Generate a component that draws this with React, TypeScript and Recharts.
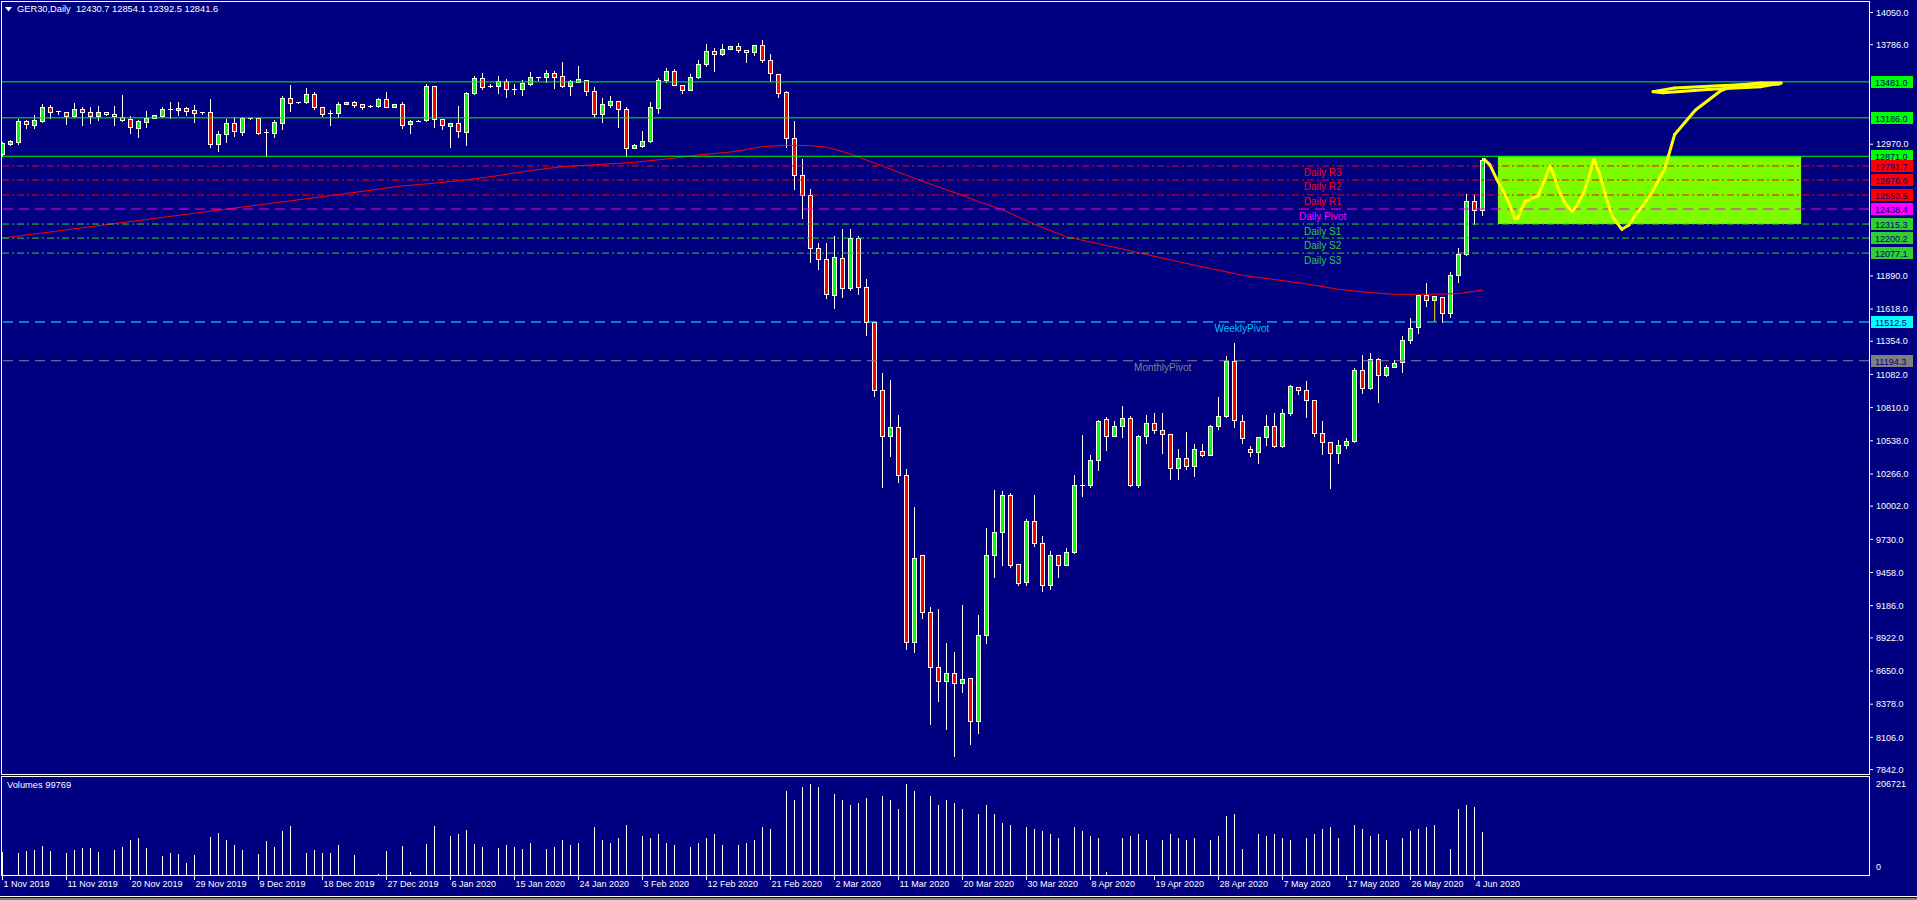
import React from 'react';
import {
  ComposedChart,
  Bar,
  Line,
  XAxis,
  YAxis,
  ReferenceLine,
  ReferenceArea,
  ReferenceDot,
} from 'recharts';

// daily GER30 bars, index 0 = 1 Nov 2019
const OPEN = [
  12887, 12969, 12991, 13157, 13130, 13162, 13279, 13242, 13238, 13203,
  13255, 13238, 13203, 13230, 13214, 13195, 13176, 13105, 13154, 13184,
  13203, 13255, 13250, 13263, 13247, 13236, 13238, 12974, 13051, 13143,
  13072, 13181, 13181, 13070, 13064, 13146, 13345, 13304, 13320, 13380,
  13279, 13225, 13222, 13296, 13312, 13296, 13280, 13285, 13337, 13279,
  13296, 13132, 13162, 13168, 13445, 13173, 13122, 13141, 13067, 13386,
  13516, 13448, 13448, 13492, 13426, 13424, 13467, 13522, 13522, 13552,
  13527, 13448, 13481, 13500, 13410, 13214, 13293, 13323, 13255, 12936,
  12958, 12993, 13268, 13500, 13573, 13459, 13415, 13524, 13631, 13737,
  13710, 13753, 13778, 13745, 13726, 13786, 13663, 13549, 13394, 13018,
  12716, 12552, 12116, 12027, 11737, 12036, 11788, 12200, 11803, 11514,
  10953, 10580, 10649, 10261, 8889, 9605, 9134, 8681, 8570, 8630,
  8556, 8597, 8242, 8949, 9605, 9793, 10097, 9531, 9381, 9880,
  9703, 9358, 9605, 9522, 9629, 10172, 10172, 10378, 10718, 10580,
  10658, 10723, 10178, 10578, 10687, 10627, 10591, 10313, 10395, 10332,
  10457, 10422, 10662, 10744, 11193, 10703, 10468, 10444, 10567, 10662,
  10496, 10769, 10982, 10955, 10873, 10600, 10531, 10436, 10501, 10539,
  11119, 10969, 11206, 11078, 11146, 11187, 11365, 11469, 11734, 11693,
  11720, 11583, 11898, 12067, 12505, 12430.7,
];
const HIGH = [
  12990, 13004, 13173, 13168, 13208, 13298, 13290, 13242, 13238, 13306,
  13271, 13271, 13282, 13233, 13282, 13372, 13200, 13168, 13241, 13206,
  13274, 13315, 13315, 13277, 13288, 13236, 13337, 13081, 13173, 13189,
  13189, 13186, 13186, 13094, 13168, 13364, 13454, 13320, 13429, 13402,
  13279, 13250, 13315, 13312, 13326, 13296, 13290, 13348, 13397, 13298,
  13315, 13168, 13168, 13467, 13451, 13173, 13141, 13282, 13399, 13527,
  13554, 13462, 13527, 13505, 13462, 13494, 13562, 13522, 13576, 13568,
  13641, 13500, 13609, 13500, 13435, 13345, 13369, 13323, 13274, 12975,
  13078, 13315, 13516, 13598, 13590, 13459, 13549, 13663, 13794, 13761,
  13788, 13778, 13799, 13745, 13786, 13827, 13707, 13549, 13407, 13159,
  12846, 12601, 12161, 12161, 12214, 12274, 12274, 12215, 11863, 11514,
  11090, 11036, 10753, 10306, 9993, 9605, 9173, 9158, 8881, 8806,
  9194, 8597, 9107, 9823, 10133, 10127, 10112, 9531, 9894, 10091,
  9754, 9635, 9605, 9659, 10261, 10583, 10425, 10709, 10732, 10703,
  10822, 10744, 10589, 10753, 10763, 10763, 10591, 10468, 10608, 10512,
  10512, 10668, 10895, 11234, 11338, 10750, 10496, 10567, 10750, 10764,
  10796, 10996, 10982, 11029, 10873, 10701, 10531, 10545, 10558, 11133,
  11242, 11255, 11215, 11160, 11201, 11398, 11542, 11734, 11829, 11726,
  11720, 11925, 12116, 12562, 12562, 12854.1,
];
const LOW = [
  12875, 12963, 12972, 13105, 13105, 13151, 13187, 13220, 13138, 13190,
  13130, 13146, 13170, 13211, 13127, 13160, 13064, 13031, 13113, 13181,
  13195, 13187, 13209, 13209, 13154, 13217, 12950, 12917, 12991, 13037,
  13045, 13178, 13056, 12874, 13031, 13097, 13244, 13304, 13304, 13260,
  13203, 13130, 13190, 13296, 13277, 13260, 13277, 13277, 13277, 13279,
  13105, 13064, 13157, 13162, 13113, 13091, 12945, 13031, 12964, 13380,
  13421, 13440, 13391, 13358, 13380, 13375, 13456, 13500, 13481, 13432,
  13440, 13375, 13481, 13372, 13189, 13151, 13277, 13113, 12874, 12936,
  12950, 12991, 13222, 13481, 13454, 13391, 13415, 13516, 13609, 13571,
  13699, 13753, 13723, 13644, 13704, 13644, 13486, 13358, 12944, 12604,
  12362, 12002, 11950, 11708, 11624, 11713, 11773, 11743, 11409, 10902,
  10157, 10416, 10202, 8830, 8806, 9083, 8219, 8403, 8174, 7950,
  8481, 8055, 8144, 8880, 9420, 9516, 9507, 9352, 9358, 9674,
  9307, 9322, 9420, 9522, 9614, 10088, 10157, 10297, 10461, 10580,
  10568, 10166, 10157, 10521, 10600, 10436, 10222, 10222, 10304, 10250,
  10416, 10422, 10632, 10736, 10654, 10523, 10416, 10359, 10504, 10485,
  10485, 10750, 10922, 10731, 10580, 10430, 10154, 10359, 10477, 10531,
  10927, 10960, 10859, 11070, 11146, 11105, 11343, 11425, 11646, 11690,
  11510, 11556, 11843, 12062, 12316, 12392.5,
];
const CLOSE = [
  12977, 12996, 13157, 13132, 13165, 13271, 13236, 13236, 13203, 13255,
  13236, 13203, 13233, 13214, 13198, 13168, 13113, 13160, 13181, 13206,
  13257, 13255, 13263, 13244, 13222, 13236, 12974, 13051, 13140, 13075,
  13181, 13184, 13064, 13070, 13151, 13345, 13304, 13320, 13380, 13277,
  13220, 13225, 13298, 13312, 13293, 13277, 13283, 13337, 13277, 13298,
  13130, 13157, 13162, 13445, 13173, 13124, 13141, 13075, 13386, 13516,
  13440, 13448, 13492, 13424, 13426, 13473, 13519, 13522, 13552, 13522,
  13445, 13492, 13503, 13407, 13214, 13296, 13323, 13255, 12936, 12964,
  12996, 13271, 13500, 13573, 13459, 13415, 13524, 13631, 13737, 13712,
  13753, 13778, 13745, 13729, 13786, 13660, 13554, 13391, 13018, 12716,
  12552, 12117, 12027, 11743, 12042, 11788, 12200, 11803, 11514, 10953,
  10580, 10649, 10261, 8889, 9581, 9134, 8681, 8570, 8630, 8556,
  8588, 8242, 8949, 9605, 9793, 10097, 9522, 9373, 9880, 9701,
  9358, 9605, 9516, 9629, 10172, 10172, 10378, 10700, 10580, 10658,
  10723, 10178, 10574, 10687, 10627, 10591, 10313, 10395, 10332, 10468,
  10422, 10662, 10744, 11193, 10709, 10559, 10444, 10567, 10662, 10496,
  10769, 10990, 10955, 10873, 10600, 10531, 10436, 10504, 10539, 11119,
  10969, 11206, 11078, 11146, 11179, 11365, 11466, 11734, 11693, 11726,
  11583, 11898, 12067, 12505, 12431, 12841.6,
];
const VOLUME = [
  54000, 1000, 52000, 56000, 58000, 67000, 56000, 1000, 52000, 58000,
  63000, 63000, 54000, 1000, 58000, 65000, 81000, 85000, 63000, 1000,
  45000, 52000, 49000, 29000, 47000, 1000, 88000, 97000, 81000, 70000,
  58000, 1000, 49000, 79000, 65000, 101000, 112000, 1000, 52000, 58000,
  52000, 52000, 70000, 1000, 47000, 2000, 500, 4000, 56000, 1000,
  67000, 9000, 500, 72000, 112000, 1000, 90000, 94000, 103000, 72000,
  65000, 1000, 63000, 70000, 65000, 60000, 75000, 1000, 60000, 65000,
  80000, 70000, 75000, 1000, 110000, 80000, 75000, 85000, 115000, 1000,
  90000, 85000, 95000, 75000, 70000, 1000, 65000, 75000, 85000, 95000,
  70000, 1000, 70000, 75000, 80000, 110000, 105000, 1000, 190000, 170000,
  200000, 206721, 200000, 1000, 185000, 170000, 160000, 165000, 175000, 1000,
  180000, 170000, 150000, 206000, 190000, 1000, 180000, 160000, 170000, 165000,
  150000, 1000, 140000, 160000, 140000, 120000, 115000, 1000, 110000, 105000,
  100000, 95000, 85000, 1000, 110000, 100000, 90000, 85000, 10000, 1000,
  85000, 90000, 95000, 80000, 1000, 80000, 95000, 85000, 80000, 85000,
  1000, 80000, 90000, 135000, 140000, 60000, 1000, 95000, 90000, 95000,
  85000, 80000, 1000, 85000, 95000, 105000, 110000, 85000, 1000, 115000,
  105000, 90000, 95000, 80000, 1000, 85000, 100000, 105000, 110000, 115000,
  1000, 60000, 150000, 160000, 155000, 99769,
];

// red moving average, read at selected bars
const MA_BARS = [
  0, 10, 20, 30, 40, 50, 54, 58, 62, 66, 70, 75, 79, 83, 87, 91, 95, 98, 101, 103,
  106, 110, 115, 120, 122, 125, 129, 133, 139, 143, 147, 151, 155, 159, 163, 167,
  171, 174, 178, 182, 185,
];
const MA_VALUES = [
  12200, 12285, 12370, 12455, 12540, 12628, 12650, 12678, 12713, 12754, 12786,
  12805, 12822, 12849, 12882, 12906, 12950, 12961, 12958, 12945, 12890, 12790,
  12665, 12550, 12500, 12430, 12313, 12210, 12125, 12065, 12006, 11950, 11895,
  11860, 11824, 11780, 11753, 11739, 11739, 11745, 11775,
];

const PRICE_TICKS = [
  14050, 13786, 12970, 11890, 11618, 11354, 11082, 10810,
  10538, 10266, 10002, 9730, 9458, 9186, 8922, 8650, 8378, 8106, 7842,
];

const DATE_LABELS = [
  '1 Nov 2019', '11 Nov 2019', '20 Nov 2019', '29 Nov 2019', '9 Dec 2019',
  '18 Dec 2019', '27 Dec 2019', '6 Jan 2020', '15 Jan 2020', '24 Jan 2020',
  '3 Feb 2020', '12 Feb 2020', '21 Feb 2020', '2 Mar 2020', '11 Mar 2020',
  '20 Mar 2020', '30 Mar 2020', '8 Apr 2020', '19 Apr 2020', '28 Apr 2020',
  '7 May 2020', '17 May 2020', '26 May 2020', '4 Jun 2020',
];
const DATE_TICKS = DATE_LABELS.map((_, i) => i * 8);

// horizontal levels
const DAILY_NAMES = ['Daily R3', 'Daily R2', 'Daily R1', 'Daily Pivot', 'Daily S1', 'Daily S2', 'Daily S3'];
const DAILY_VALUES = [12791.7, 12676.6, 12553.5, 12438.4, 12315.3, 12200.2, 12077.1];
const GREEN_LEVELS = [13481.0, 13186.0, 12871.0];
const WEEKLY_PIVOT = 11512.5;
const MONTHLY_PIVOT = 11194.3;

// target box and hand-drawn projection
const BOX_BARS = [186.9, 224.8];
const BOX_PRICES = [12315.3, 12871.0];
const PATH_BARS = [
  185.2, 185.9, 186.8, 187.5, 188.3, 189.0, 189.4, 189.8, 190.3, 191.1, 191.9,
  192.4, 192.9, 193.4, 193.9, 194.5, 195.3, 196.2, 196.8, 197.6, 198.3, 198.9,
  199.6, 200.4, 201.2, 202.4, 203.3, 204.1, 205.1, 206.1, 207.1, 207.7, 208.2,
  209.0, 210.3, 211.6, 213.2, 214.8, 216.4, 219.7, 222.3, 219.7, 213.6, 207.5,
  206.3, 209.0, 215.1, 220.5, 222.0,
];
const PATH_PRICES = [
  12846, 12800, 12677, 12595, 12485, 12362, 12362, 12431, 12499, 12526, 12545,
  12622, 12704, 12791, 12718, 12595, 12485, 12417, 12472, 12567, 12704, 12846,
  12731, 12540, 12376, 12272, 12308, 12390, 12472, 12567, 12690, 12759, 12868,
  13050, 13150, 13250, 13330, 13410, 13451, 13471, 13471, 13441, 13421, 13391,
  13401, 13431, 13451, 13466, 13461,
];

const FONT = '"Liberation Sans", Arial, sans-serif';
const NAVY = '#000080';
const X_DOMAIN: [number, number] = [-0.09, 233.29];

const rows = OPEN.map((o, k) => {
  const mi = MA_BARS.indexOf(k);
  return {
    k,
    o,
    h: HIGH[k],
    l: LOW[k],
    c: CLOSE[k],
    range: [LOW[k], HIGH[k]],
    v: VOLUME[k],
    ma: mi >= 0 ? MA_VALUES[mi] : null,
  };
});

function CandleShape(props: any) {
  const { x, y, width, height, payload } = props;
  if (x == null || y == null || !payload) return null;
  const cx = Math.floor(x + width / 2);
  const top = Math.min(y, y + height);
  const bottom = Math.max(y, y + height);
  const { o, h, l, c } = payload;
  const span = h - l;
  const toY = (v: number) => (span > 0 ? top + ((h - v) / span) * (bottom - top) : top);
  const y1 = Math.round(toY(Math.max(o, c)));
  const y2 = Math.round(toY(Math.min(o, c)));
  const up = c >= o;
  return (
    <g>
      <line x1={cx + 0.5} x2={cx + 0.5} y1={Math.round(top)} y2={Math.round(bottom) + 1} stroke="#fff" />
      {y2 - y1 < 2 ? (
        <line x1={cx - 2} x2={cx + 3} y1={y1 + 0.5} y2={y1 + 0.5} stroke="#fff" />
      ) : (
        <rect x={cx - 1.5} y={y1 + 0.5} width={4} height={y2 - y1} fill={up ? '#00ff00' : '#ff0000'} stroke="#fff" />
      )}
    </g>
  );
}

function VolumeShape(props: any) {
  const { x, y, width, height } = props;
  if (x == null || !height || Math.abs(height) < 0.6) return null;
  const cx = Math.floor(x + width / 2);
  const t = Math.min(y, y + height);
  const b = Math.max(y, y + height);
  return <line x1={cx + 0.5} x2={cx + 0.5} y1={Math.round(t)} y2={Math.round(b)} stroke="#fff" />;
}

function Tag({ viewBox, text, bg }: any) {
  if (!viewBox) return null;
  const x = viewBox.x + viewBox.width + 2;
  const y = Math.round(viewBox.y);
  return (
    <g>
      <rect x={x} y={y - 6} width={42} height={12} fill={bg} />
      <text x={x + 4} y={y + 3.5} fontSize={9} fontFamily={FONT} fill={NAVY}>
        {text}
      </text>
    </g>
  );
}

function LevelText({ viewBox, text, color }: any) {
  if (!viewBox) return null;
  const x = viewBox.x + (viewBox.width || 0) / 2;
  const y = viewBox.y + (viewBox.height || 0) / 2 + 7;
  return (
    <text x={x} y={y} dy="0.35em" textAnchor="middle" fontSize={10} fontFamily={FONT} fill={color}>
      {text}
    </text>
  );
}

function DateTick({ x, y, payload }: any) {
  const label = DATE_LABELS[DATE_TICKS.indexOf(payload.value)];
  const px = Math.floor(x) + 0.5;
  return (
    <g>
      <line x1={px} x2={px} y1={y} y2={y + 4} stroke="#fff" />
      <text x={px + 1} y={y + 11} fontSize={9} fontFamily={FONT} fill="#fff">
        {label}
      </text>
    </g>
  );
}

function VolTick({ x, y, payload }: any) {
  const dy = payload.value === 0 ? -9 : 0;
  return (
    <text x={x} y={y + dy} dy="0.35em" fontSize={9} fontFamily={FONT} fill="#fff">
      {payload.value}
    </text>
  );
}

const DAILY_COLORS = ['#ff0000', '#ff0000', '#ff0000', '#ff00ff', '#32cd32', '#32cd32', '#32cd32'];

export default function App() {
  const dailyDash = ['7 3 2 3', '7 3 2 3', '7 3 2 3', '10 6', '7 3 2 3', '7 3 2 3', '7 3 2 3'];
  const pathSegments = PATH_BARS.slice(1).map((k, i) => [
    { x: PATH_BARS[i], y: PATH_PRICES[i] },
    { x: k, y: PATH_PRICES[i + 1] },
  ]);

  return (
    <div
      style={{
        position: 'absolute',
        left: 0,
        top: 0,
        width: 1917,
        height: 900,
        background: NAVY,
        overflow: 'hidden',
        fontFamily: FONT,
      }}
    >
      <div style={{ position: 'absolute', left: 1, top: 1, width: 1869, height: 774, border: '1px solid #fff', boxSizing: 'border-box' }} />
      <div style={{ position: 'absolute', left: 1, top: 776, width: 1869, height: 100, border: '1px solid #fff', boxSizing: 'border-box' }} />
      <div style={{ position: 'absolute', left: 0, top: 896, width: 1917, height: 1, background: '#fff' }} />
      <div style={{ position: 'absolute', left: 0, top: 898, width: 1917, height: 2, background: '#808080' }} />

      <ComposedChart
        width={1917}
        height={775}
        data={rows}
        margin={{ top: 2, right: 0, bottom: 2, left: 2 }}
        style={{ position: 'absolute', left: 0, top: 0 }}
      >
        <XAxis type="number" dataKey="k" domain={X_DOMAIN} allowDataOverflow hide />
        <YAxis
          orientation="right"
          width={48}
          type="number"
          domain={[7814, 14136]}
          allowDataOverflow
          ticks={PRICE_TICKS}
          interval={0}
          tickFormatter={(v: number) => v.toFixed(1)}
          tick={{ fill: '#fff', fontSize: 9, fontFamily: FONT }}
          tickLine={{ stroke: '#fff' }}
          tickSize={4}
          tickMargin={3}
          axisLine={false}
        />
        <ReferenceArea
          x1={BOX_BARS[0]}
          x2={BOX_BARS[1]}
          y1={BOX_PRICES[0]}
          y2={BOX_PRICES[1]}
          fill="#7cfc00"
          fillOpacity={1}
          stroke="none"
        />
        <Bar dataKey="range" barSize={6} shape={<CandleShape />} isAnimationActive={false} />
        <Line
          dataKey="ma"
          stroke="#ff0000"
          strokeWidth={1}
          dot={false}
          activeDot={false}
          connectNulls
          isAnimationActive={false}
        />
        {GREEN_LEVELS.map((p) => (
          <ReferenceLine
            key={p}
            y={p}
            stroke="#00ff00"
            strokeWidth={1}
            label={<Tag text={p.toFixed(1)} bg="#00ff00" />}
          />
        ))}
        {DAILY_VALUES.map((p, i) => (
          <ReferenceLine
            key={p}
            y={p}
            stroke={DAILY_COLORS[i]}
            strokeDasharray={dailyDash[i]}
            label={<Tag text={p.toFixed(1)} bg={DAILY_COLORS[i]} />}
          />
        ))}
        <ReferenceLine
          y={WEEKLY_PIVOT}
          stroke="#00ffff"
          strokeDasharray="10 6"
          label={<Tag text={WEEKLY_PIVOT.toFixed(1)} bg="#00ffff" />}
        />
        <ReferenceLine
          y={MONTHLY_PIVOT}
          stroke="#808080"
          strokeDasharray="10 6"
          label={<Tag text={MONTHLY_PIVOT.toFixed(1)} bg="#808080" />}
        />
        <ReferenceLine
          segment={[
            { x: 179, y: 11690 },
            { x: 179, y: 11515 },
          ]}
          stroke="#ffd700"
          strokeWidth={1}
        />
        {pathSegments.map((seg, i) => (
          <ReferenceLine
            key={`p${i}`}
            segment={seg}
            stroke="#ffff00"
            strokeWidth={3}
            strokeLinecap="round"
            ifOverflow="visible"
          />
        ))}
        {DAILY_NAMES.map((name, i) => (
          <ReferenceDot
            key={name}
            x={165}
            y={DAILY_VALUES[i]}
            r={0}
            fill="none"
            stroke="none"
            label={<LevelText text={name} color={DAILY_COLORS[i]} />}
          />
        ))}
        <ReferenceDot
          x={154.9}
          y={WEEKLY_PIVOT}
          r={0}
          fill="none"
          stroke="none"
          label={<LevelText text="WeeklyPivot" color="#00bfff" />}
        />
        <ReferenceDot
          x={145}
          y={MONTHLY_PIVOT}
          r={0}
          fill="none"
          stroke="none"
          label={<LevelText text="MonthlyPivot" color="#808080" />}
        />
      </ComposedChart>

      <ComposedChart
        width={1917}
        height={118}
        data={rows}
        margin={{ top: 1, right: 0, bottom: 0, left: 2 }}
        style={{ position: 'absolute', left: 0, top: 776 }}
      >
        <XAxis
          type="number"
          dataKey="k"
          domain={X_DOMAIN}
          allowDataOverflow
          ticks={DATE_TICKS}
          interval={0}
          height={18}
          tick={<DateTick />}
          tickLine={false}
          axisLine={false}
          tickSize={0}
          tickMargin={0}
        />
        <YAxis
          orientation="right"
          width={48}
          type="number"
          domain={[0, 222450]}
          allowDataOverflow
          ticks={[0, 206721]}
          interval={0}
          tick={<VolTick />}
          tickLine={false}
          tickSize={4}
          tickMargin={3}
          axisLine={false}
        />
        <Bar dataKey="v" barSize={6} shape={<VolumeShape />} isAnimationActive={false} />
      </ComposedChart>

      <div
        style={{
          position: 'absolute',
          left: 5,
          top: 4,
          color: '#fff',
          fontSize: 9.3,
          whiteSpace: 'pre',
          display: 'flex',
          alignItems: 'center',
          gap: 5,
        }}
      >
        <svg width={7} height={5}>
          <polygon points="0,0 7,0 3.5,4.5" fill="#fff" />
        </svg>
        <span>{'GER30,Daily  12430.7 12854.1 12392.5 12841.6'}</span>
      </div>
      <div style={{ position: 'absolute', left: 7, top: 780, color: '#fff', fontSize: 9.3 }}>Volumes 99769</div>
    </div>
  );
}
